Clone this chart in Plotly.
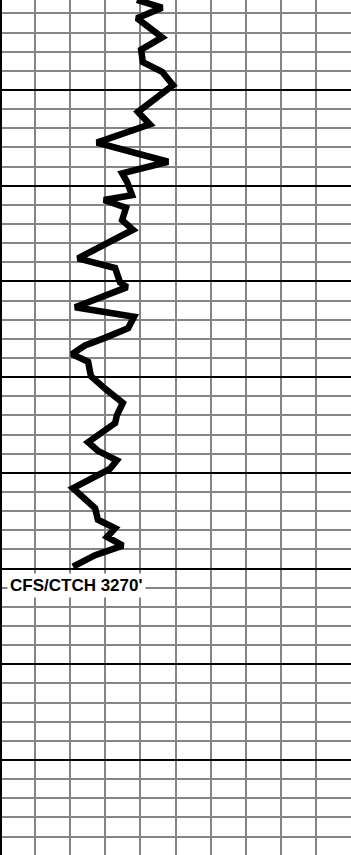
import plotly.graph_objects as go

# Gas curve (units) against measured depth (ft)
depth = [3210.6, 3211.4, 3212.5, 3214.5, 3215.8, 3217.1, 3218.1, 3219.5, 3222.3, 3223.6,
         3225.5, 3227.5, 3228.7, 3229.6, 3231.0, 3231.5, 3232.3, 3233.6, 3234.6, 3236.1,
         3237.6, 3238.6, 3240.1, 3240.6, 3242.7, 3243.7, 3244.9, 3245.9, 3246.7, 3247.6,
         3248.4, 3249.9, 3250.8, 3251.2, 3252.7, 3254.0, 3254.8, 3255.8, 3256.8, 3257.7,
         3258.7, 3259.6, 3261.6, 3263.7, 3264.9, 3265.8, 3266.7, 3267.6, 3268.6, 3269.8]
gas = [39.0, 46.2, 39.0, 46.2, 40.2, 40.7, 46.2, 49.3, 39.3, 42.7,
       27.6, 47.9, 34.8, 36.2, 37.6, 29.6, 35.9, 34.8, 37.9, 30.5,
       22.2, 32.8, 34.2, 36.2, 21.4, 38.2, 36.5, 29.9, 24.2, 20.5,
       25.1, 25.9, 29.1, 29.9, 35.0, 33.3, 32.8, 29.1, 25.1, 27.9,
       33.3, 31.3, 20.8, 27.1, 27.9, 32.8, 30.5, 35.0, 27.1, 20.8]

marker_depth = 3270
marker_label = "CFS/CTCH 3270'"

depth_top, depth_bottom = 3210.6, 3299.93

fig = go.Figure()
fig.add_trace(go.Scatter(
    x=gas, y=depth, mode="lines",
    line=dict(color="black", width=6.5),
    hoverinfo="skip", showlegend=False,
))

fig.add_annotation(
    x=1.9, y=marker_depth + 0.45, xref="x", yref="y",
    text="<b>" + marker_label + "</b>", showarrow=False,
    xanchor="left", yanchor="top",
    font=dict(family="Liberation Sans, Arial, sans-serif", size=17, color="black"),
    bgcolor="white", borderpad=2,
)

fig.update_layout(
    width=351, height=855,
    margin=dict(l=0, r=0, t=0, b=0),
    paper_bgcolor="white", plot_bgcolor="white",
    showlegend=False,
)
fig.update_xaxes(
    range=[0, 100], tick0=0, dtick=10,
    showgrid=True, gridcolor="#858585", gridwidth=2,
    zeroline=True, zerolinecolor="black", zerolinewidth=4,
    showticklabels=False, ticks="", showline=False, fixedrange=True,
)
fig.update_yaxes(
    range=[depth_bottom, depth_top], tick0=3220, dtick=10,
    showgrid=True, gridcolor="black", gridwidth=2,
    minor=dict(dtick=2, tick0=3220, showgrid=True, gridcolor="#858585", gridwidth=2),
    zeroline=False, showticklabels=False, ticks="", showline=False, fixedrange=True,
)

fig.write_html("out.html", config={"displayModeBar": False})
